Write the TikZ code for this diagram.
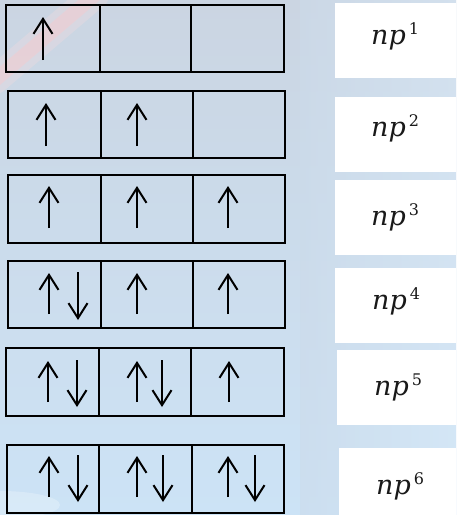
\documentclass[tikz,border=0pt]{standalone}
\usepackage{fontspec}
\newfontfamily\labfont{DejaVu Serif}
\usetikzlibrary{arrows.meta}
\definecolor{bgA}{HTML}{CBD5E2}
\definecolor{bgB}{HTML}{CCE3F6}
\definecolor{streak}{HTML}{F3C4C8}
\tikzset{
  cellline/.style={draw=black, line width=2.2pt},
  spin/.style={line width=2pt, -{Straight Barb[length=15pt,width=19pt,line width=2pt]}},
  labelbox/.style={fill=white, draw=none},
  conf/.style={font=\labfont\itshape\fontsize{27}{30}\selectfont, anchor=base west, inner sep=0pt, text=black!90},
  supnum/.style={font=\labfont\fontsize{16}{18}\selectfont, anchor=base west, inner sep=0pt, text=black!90}
}
\begin{document}
\begin{tikzpicture}[x=1pt,y=-1pt]
\useasboundingbox (0,0) rectangle (456,515);
% background
\shade[top color=bgA, bottom color=bgB] (0,0) rectangle (456,515);
\shade[left color=bgA!60!bgB, right color=bgB!70!white, opacity=0.5] (300,0) rectangle (456,515);
\draw[streak, line width=14pt, opacity=0.5, line cap=round] (-5,80) -- (95,-5);
\draw[streak!60!white, line width=28pt, opacity=0.3, line cap=round] (-5,80) -- (95,-5);
\fill[white, opacity=0.25] (0,505) ellipse (60 and 14);
% white label boxes
\fill[labelbox] (335,3) rectangle (456,78);
\fill[labelbox] (335,97) rectangle (456,172);
\fill[labelbox] (335,180) rectangle (456,255);
\fill[labelbox] (335,268) rectangle (456,343);
\fill[labelbox] (337,350) rectangle (456,425);
\fill[labelbox] (339,448) rectangle (456,515);
% labels
\node[conf] (l1) at (371,44) {np};
\node[conf] (l2) at (371,136) {np};
\node[conf] (l3) at (371,225) {np};
\node[conf] (l4) at (372,309) {np};
\node[conf] (l5) at (374,395) {np};
\node[conf] (l6) at (376,494) {np};
\node[supnum] (s1) at ([xshift=2.5pt,yshift=10pt]l1.base east) {1};
\node[supnum] (s2) at ([xshift=2.5pt,yshift=10pt]l2.base east) {2};
\node[supnum] (s3) at ([xshift=2.5pt,yshift=10pt]l3.base east) {3};
\node[supnum] (s4) at ([xshift=2.5pt,yshift=10pt]l4.base east) {4};
\node[supnum] (s5) at ([xshift=2.5pt,yshift=10pt]l5.base east) {5};
\node[supnum] (s6) at ([xshift=2.5pt,yshift=10pt]l6.base east) {6};
% orbital boxes
\draw[cellline] (6,5) rectangle (284,72) (100,5) -- (100,72) (191,5) -- (191,72);
\draw[cellline] (8,91) rectangle (285,158) (101,91) -- (101,158) (193,91) -- (193,158);
\draw[cellline] (8,175) rectangle (285,243) (101,175) -- (101,243) (193,175) -- (193,243);
\draw[cellline] (8,261) rectangle (285,328) (101,261) -- (101,328) (193,261) -- (193,328);
\draw[cellline] (6,348) rectangle (284,416) (99,348) -- (99,416) (191,348) -- (191,416);
\draw[cellline] (7,445) rectangle (284,513) (99,445) -- (99,513) (192,445) -- (192,513);
% row 1
\draw[spin] (43,60) -- (43,17);
% row 2
\draw[spin] (46,146) -- (46,103);
\draw[spin] (137,146) -- (137,103);
% row 3
\draw[spin] (49,228) -- (49,186);
\draw[spin] (137,228) -- (137,186);
\draw[spin] (228,228) -- (228,186);
% row 4
\draw[spin] (49,314) -- (49,273);
\draw[spin] (78,272) -- (78,320);
\draw[spin] (137,314) -- (137,273);
\draw[spin] (228,314) -- (228,273);
% row 5
\draw[spin] (48,402) -- (48,361);
\draw[spin] (77,360) -- (77,407);
\draw[spin] (137,402) -- (137,361);
\draw[spin] (162,360) -- (162,407);
\draw[spin] (229,402) -- (229,361);
% row 6
\draw[spin] (49,497) -- (49,456);
\draw[spin] (78,455) -- (78,502);
\draw[spin] (137,497) -- (137,456);
\draw[spin] (163,455) -- (163,502);
\draw[spin] (228,497) -- (228,456);
\draw[spin] (255,455) -- (255,502);
\end{tikzpicture}
\end{document}
